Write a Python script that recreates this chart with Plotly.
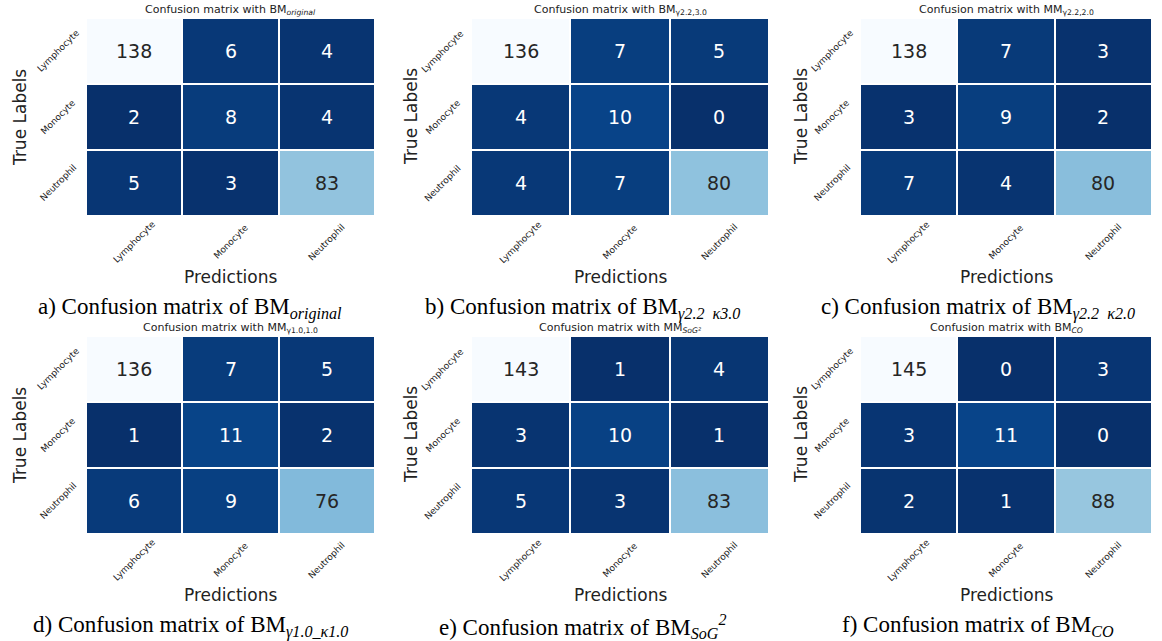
import plotly.graph_objects as go

classes = ["Lymphocyte", "Monocyte", "Neutrophil"]

cm_a = [[138, 6, 4], [2, 8, 4], [5, 3, 83]]
cm_b = [[136, 7, 5], [4, 10, 0], [4, 7, 80]]
cm_c = [[138, 7, 3], [3, 9, 2], [7, 4, 80]]
cm_d = [[136, 7, 5], [1, 11, 2], [6, 9, 76]]
cm_e = [[143, 1, 4], [3, 10, 1], [5, 3, 83]]
cm_f = [[145, 0, 3], [3, 11, 0], [2, 1, 88]]

titles = [
    "Confusion matrix with BM<sub><i>original</i></sub>",
    "Confusion matrix with BM<sub>γ2.2,3.0</sub>",
    "Confusion matrix with MM<sub>γ2.2,2.0</sub>",
    "Confusion matrix with MM<sub>γ1.0,1.0</sub>",
    "Confusion matrix with MM<sub><i>SoG²</i></sub>",
    "Confusion matrix with BM<sub><i>CO</i></sub>",
]
captions = [
    "a) Confusion matrix of BM<sub><i>original</i></sub>",
    "b) Confusion matrix of BM<sub><i>γ2.2  κ3.0</i></sub>",
    "c) Confusion matrix of BM<sub><i>γ2.2  κ2.0</i></sub>",
    "d) Confusion matrix of BM<sub><i>γ1.0_κ1.0</i></sub>",
    "e) Confusion matrix of BM<sub><i>SoG</i></sub><sup><i>2</i></sup>",
    "f) Confusion matrix of BM<sub><i>CO</i></sub>",
]
matrices = [cm_a, cm_b, cm_c, cm_d, cm_e, cm_f]

W, H = 1162, 641
blues = ["#f7fbff", "#deebf7", "#c6dbef", "#9ecae1", "#6baed6",
         "#4292c6", "#2171b5", "#08519c", "#08306b"]
blues_r = [[i / 8, c] for i, c in enumerate(reversed(blues))]

# pixel boxes of heatmaps (x0, x1), (y0, y1)
xboxes = [(86, 375), (471, 769), (860, 1152)]
yboxes = [(18, 216), (336, 534)]
ylab_off = [66, 60, 59]
cap_x = [190, 582, 978]
cap_y = [308, 626]

fig = go.Figure()
annotations = []
tickfont = dict(family="DejaVu Sans", size=9, color="#222")


def pann(x, y, text, font, angle=0):
    return dict(x=x / W, y=1 - y / H, xref="paper", yref="paper", text=text,
                showarrow=False, xanchor="center", yanchor="middle",
                textangle=angle, font=font)


for k, cm in enumerate(matrices):
    r, c = divmod(k, 3)
    x0, x1 = xboxes[c]
    y0, y1 = yboxes[r]
    idx = k + 1
    xa = "x" if idx == 1 else f"x{idx}"
    ya = "y" if idx == 1 else f"y{idx}"
    flat = [v for row in cm for v in row]
    vmin, vmax = min(flat), max(flat)
    fig.add_trace(go.Heatmap(
        z=cm, x=classes, y=classes, colorscale=blues_r, zmin=vmin, zmax=vmax,
        showscale=False, xgap=2, ygap=2, xaxis=xa, yaxis=ya, hoverinfo="z"))
    fig.layout[f"xaxis{'' if idx == 1 else idx}"] = dict(
        domain=[x0 / W, x1 / W], anchor=ya, showgrid=False, zeroline=False,
        ticks="", showticklabels=False, showline=False)
    fig.layout[f"yaxis{'' if idx == 1 else idx}"] = dict(
        domain=[1 - y1 / H, 1 - y0 / H], anchor=xa, showgrid=False,
        zeroline=False, ticks="", autorange="reversed", showticklabels=False,
        showline=False)
    for i, row in enumerate(cm):
        for j, v in enumerate(row):
            norm = (v - vmin) / (vmax - vmin)
            annotations.append(dict(
                x=classes[j], y=classes[i], xref=xa, yref=ya, text=str(v),
                showarrow=False,
                font=dict(family="DejaVu Sans", size=19,
                          color="#262626" if norm > 0.5 else "white")))
    # rotated tick labels (centered on tick, like matplotlib rotation=45)
    for j, name in enumerate(classes):
        annotations.append(dict(
            x=name, y=1 - (y1 + 26) / H, xref=xa, yref="paper", text=name,
            showarrow=False, xanchor="center", yanchor="middle",
            textangle=-45, font=tickfont))
        annotations.append(dict(
            x=(x0 - 28) / W, y=name, xref="paper", yref=ya, text=name,
            showarrow=False, xanchor="center", yanchor="middle",
            textangle=-45, font=tickfont))
    cx = (x0 + x1) / 2
    annotations.append(pann(cx, y0 - 8, titles[k],
                            dict(family="DejaVu Sans", size=11, color="#222")))
    annotations.append(pann(cx, y1 + 61, "Predictions",
                            dict(family="DejaVu Sans", size=17, color="#222")))
    annotations.append(pann(x0 - ylab_off[c], (y0 + y1) / 2, "True Labels",
                            dict(family="DejaVu Sans", size=17, color="#222"), -90))
    annotations.append(pann(cap_x[c], cap_y[r], captions[k],
                            dict(family="Liberation Serif", size=23, color="black")))

fig.update_layout(width=W, height=H, margin=dict(l=0, r=0, t=0, b=0),
                  paper_bgcolor="white", plot_bgcolor="white",
                  annotations=annotations, showlegend=False)
fig.write_html("out.html", config={"displayModeBar": False},
               post_script="document.body.style.margin='0';")
